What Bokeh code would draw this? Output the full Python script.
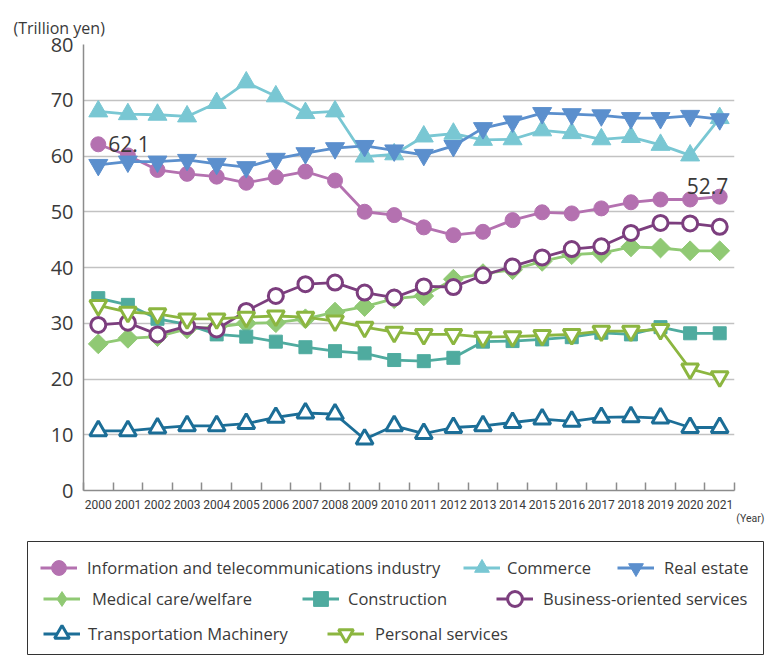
import math
from bokeh.plotting import figure
from bokeh.models import FixedTicker, Legend, LegendItem, Label, Range1d, Title
from bokeh.layouts import column, row
from bokeh.embed import file_html
from bokeh.resources import INLINE

years = ["2000", "2001", "2002", "2003", "2004", "2005", "2006", "2007", "2008", "2009", "2010",
         "2011", "2012", "2013", "2014", "2015", "2016", "2017", "2018", "2019", "2020", "2021"]
y_ticks = [0, 10, 20, 30, 40, 50, 60, 70, 80]

info = [62.1, 60.1, 57.5, 56.8, 56.3, 55.2, 56.2, 57.2, 55.6, 50.0, 49.4,
        47.2, 45.8, 46.4, 48.5, 49.9, 49.7, 50.6, 51.7, 52.2, 52.2, 52.7]
commerce = [68.0, 67.5, 67.4, 67.1, 69.5, 73.2, 70.7, 67.7, 68.0, 59.9, 60.3,
            63.5, 64.0, 62.9, 63.0, 64.6, 64.1, 63.0, 63.4, 62.0, 60.1, 66.8]
real_estate = [58.4, 59.0, 59.0, 59.3, 58.6, 58.0, 59.5, 60.5, 61.4, 61.8, 61.0,
               60.2, 61.8, 65.0, 66.2, 67.7, 67.5, 67.3, 66.8, 66.8, 67.2, 66.6]
medical = [26.3, 27.3, 27.6, 29.0, 29.3, 30.0, 30.1, 30.8, 32.0, 33.0, 34.4,
           34.9, 37.9, 38.9, 39.6, 41.1, 42.3, 42.6, 43.7, 43.5, 43.0, 43.0]
construction = [34.5, 33.3, 30.8, 29.8, 28.0, 27.6, 26.7, 25.7, 25.0, 24.6, 23.4,
                23.2, 23.8, 26.7, 26.8, 27.1, 27.5, 28.3, 28.0, 29.3, 28.2, 28.2]
business = [29.7, 30.1, 28.0, 29.5, 28.9, 32.2, 34.9, 37.0, 37.3, 35.5, 34.6,
            36.6, 36.5, 38.6, 40.2, 41.8, 43.3, 43.8, 46.2, 48.0, 47.9, 47.3]
transport = [10.7, 10.7, 11.2, 11.6, 11.6, 12.0, 13.1, 13.9, 13.7, 9.2, 11.6,
             10.2, 11.3, 11.6, 12.2, 12.8, 12.4, 13.1, 13.2, 13.0, 11.3, 11.3]
personal = [33.2, 32.0, 31.7, 30.8, 30.8, 31.1, 31.3, 31.1, 30.4, 29.3, 28.4,
            28.0, 28.0, 27.5, 27.6, 27.8, 28.0, 28.6, 28.6, 28.9, 21.8, 20.4]

names = ["Information and telecommunications industry", "Commerce", "Real estate",
         "Medical care/welfare", "Construction", "Business-oriented services",
         "Transportation Machinery", "Personal services"]

FONT = "Open Sans"
TICKFONT = "Roboto"
TXT = "#3a3a3a"
AX = "#8c8c8c"

# name, data, marker, size, angle, color, fill, marker line width, key marker
styles = [
    (names[0], info, "circle", 15, 0, "#b471b0", "#b471b0", 1, "circle"),
    (names[1], commerce, "triangle", 19, 0, "#79c7d3", "#79c7d3", 1, "triangle"),
    (names[2], real_estate, "inverted_triangle", 19, 0, "#5b8fcd", "#5b8fcd", 1, "inverted_triangle"),
    (names[3], medical, "square", 14, math.pi / 4, "#90c974", "#90c974", 1, "diamond"),
    (names[4], construction, "square", 13, 0, "#4fab9f", "#4fab9f", 1, "square"),
    (names[5], business, "circle", 15, 0, "#7c3e7e", "white", 3, "circle"),
    (names[6], transport, "triangle", 17, 0, "#1c6e97", "white", 3, "triangle"),
    (names[7], personal, "inverted_triangle", 17, 0, "#8cb640", "white", 3, "inverted_triangle"),
]

xs = list(range(len(years)))

p = figure(width=765, height=540, output_backend="svg", toolbar_location=None,
           x_range=Range1d(-0.5, len(years) - 0.5), y_range=Range1d(y_ticks[0], y_ticks[-1]),
           min_border_left=83, min_border_right=31, min_border_top=44, min_border_bottom=50)
p.outline_line_color = None
p.background_fill_color = "white"
p.border_fill_color = "white"

p.title.text = "(Trillion yen)"
p.title.align = "left"
p.title.offset = -70
p.title.text_font = FONT
p.title.text_font_size = "16px"
p.title.text_font_style = "normal"
p.title.text_color = TXT
p.title.standoff = 12

p.xgrid.visible = False
p.ygrid.ticker = FixedTicker(ticks=y_ticks[1:])
p.ygrid.grid_line_color = "#c2c2c2"
p.ygrid.grid_line_width = 1.5

p.yaxis.ticker = FixedTicker(ticks=y_ticks)
p.yaxis.axis_line_color = AX
p.yaxis.axis_line_width = 1.5
p.yaxis.major_tick_line_color = None
p.yaxis.major_tick_out = 0
p.yaxis.minor_tick_line_color = None
p.yaxis.major_label_text_font = FONT
p.yaxis.major_label_text_font_size = "20px"
p.yaxis.major_label_text_color = TXT
p.yaxis.major_label_standoff = 10

p.xaxis.ticker = FixedTicker(ticks=xs, minor_ticks=[i - 0.5 for i in range(len(years) + 1)])
p.xaxis.major_label_overrides = {i: y for i, y in zip(xs, years)}
p.xaxis.major_tick_line_color = None
p.xaxis.major_tick_out = 0
p.xaxis.major_tick_in = 0
p.xaxis.minor_tick_in = 8
p.xaxis.minor_tick_out = 0
p.xaxis.minor_tick_line_color = AX
p.xaxis.minor_tick_line_width = 1.5
p.xaxis.axis_line_color = AX
p.xaxis.axis_line_width = 1.5
p.xaxis.major_label_text_font = TICKFONT
p.xaxis.major_label_text_font_size = "12px"
p.xaxis.major_label_text_color = TXT
p.xaxis.major_label_standoff = 9

# "(Year)" unit text below the axis, at the right end
p.add_layout(Title(text="(Year)", align="right", offset=-30, standoff=0, vertical_align="top",
                   text_font=TICKFONT, text_font_size="10.5px", text_font_style="normal",
                   text_color=TXT), "below")

for name, data, marker, size, angle, color, fill, mlw, km in styles:
    p.line(xs, data, line_color=color, line_width=2.8)
    p.scatter(xs, data, marker=marker, size=size, angle=angle, line_color=color,
              fill_color=fill, line_width=mlw)

# value labels
p.add_layout(Label(x=xs[0], y=info[0], text=f"{info[0]}", x_offset=10, y_offset=0,
                   text_font=FONT, text_font_size="21px", text_color=TXT,
                   text_baseline="alphabetic", text_align="left"))
p.add_layout(Label(x=xs[-1], y=info[-1], text=f"{info[-1]}", x_offset=-33, y_offset=11,
                   text_font=FONT, text_font_size="21px", text_color=TXT,
                   text_baseline="alphabetic", text_align="left"))

# legend figure (box with the series keys)
lg = figure(width=765, height=115, output_backend="svg", toolbar_location=None,
            x_range=Range1d(-1, 0), y_range=Range1d(-1, 0),
            x_axis_location=None, y_axis_location=None,
            min_border_left=27, min_border_right=2, min_border_top=1, min_border_bottom=0)
lg.grid.visible = False
lg.outline_line_color = "#333333"
lg.outline_line_width = 1
lg.background_fill_color = "white"
lg.border_fill_color = "white"

# (vx, vy, standoff) per entry
legend_pos = [(13, 69, 10), (436, 69, 7), (590, 69, 10),
              (16, 38, 12), (275, 38, 9), (469, 38, 10),
              (16, 3, 8), (300, 3, 11)]

for (name, data, marker, size, angle, color, fill, mlw, km), (vx, vy, so) in zip(styles, legend_pos):
    # same series, outside this key box's visible range; used only for the key glyphs
    rl = lg.line(xs, data, line_color=color, line_width=2.8)
    rm = lg.scatter(xs, data, marker=km, line_color=color, fill_color=fill, line_width=mlw)
    leg = Legend(items=[LegendItem(label=name, renderers=[rl, rm])], location=(vx, vy),
                 orientation="horizontal", padding=0, margin=0, spacing=0,
                 border_line_color=None, background_fill_alpha=0,
                 glyph_width=37, glyph_height=37, label_standoff=so,
                 label_text_font=FONT, label_text_font_size="16.5px", label_text_color=TXT)
    lg.add_layout(leg)

layout = column(p, row(lg), spacing=0)
open("out.html", "w").write(file_html(layout, INLINE))
